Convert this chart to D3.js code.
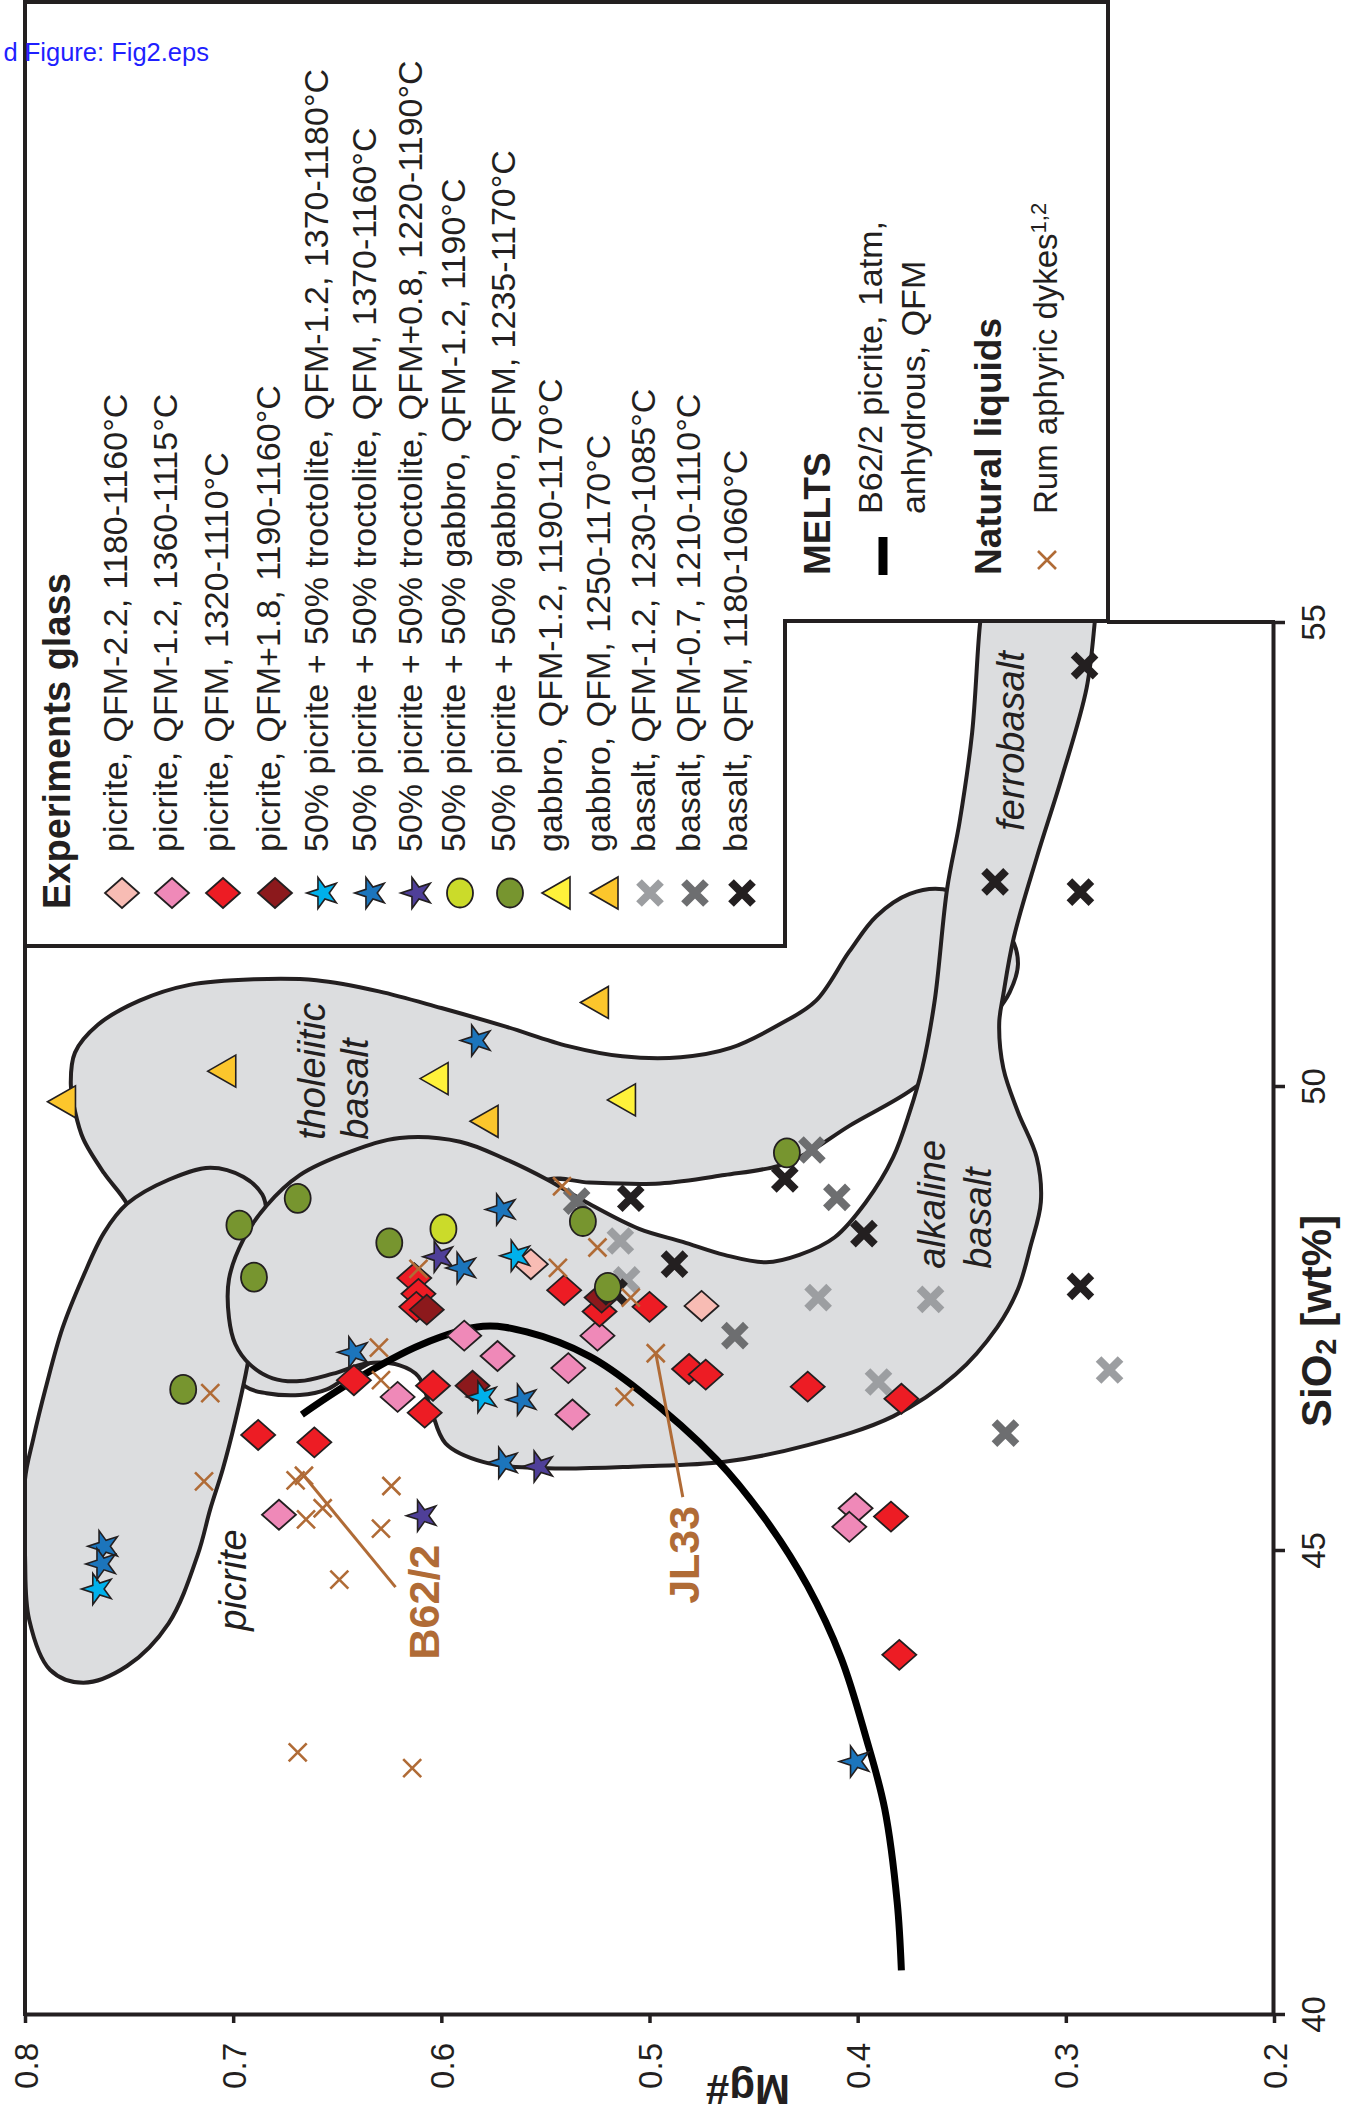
<!DOCTYPE html>
<html><head><meta charset="utf-8">
<script src="https://cdn.jsdelivr.net/npm/d3@7"></script>
<style>body{margin:0;background:#fff}svg{display:block}</style>
</head><body>
<svg id="c" width="1347" height="2112"></svg>
<script>
const FONT = "'Liberation Sans', Arial, Helvetica, sans-serif";

// ---------- DATA: [Mg#, SiO2 wt%] ----------
const mgTicks = [0.8, 0.7, 0.6, 0.5, 0.4, 0.3, 0.2];
const siTicks = [40, 45, 50, 55];

const picriteQFMm22 = [[0.557,48.08],[0.475,47.63]];
const picriteQFMm12 = [[0.589,47.31],[0.573,47.09],[0.539,46.96],[0.525,47.31],[0.621,46.65],[0.537,46.46],[0.678,45.38],[0.401,45.45],[0.404,45.25]];
const picriteQFM = [[0.613,47.93],[0.611,47.76],[0.612,47.62],[0.541,47.80],[0.524,47.57],[0.500,47.62],[0.642,46.83],[0.604,46.77],[0.608,46.48],[0.688,46.24],[0.661,46.16],[0.481,46.95],[0.473,46.89],[0.424,46.76],[0.379,46.63],[0.384,45.36],[0.380,43.87]];
const picriteQFMp18 = [[0.607,47.59],[0.585,46.77],[0.523,47.72]];
const trocQFMm12 = [[0.564,48.17],[0.580,46.65],[0.765,44.58]];
const trocQFM = [[0.583,50.49],[0.571,48.67],[0.590,48.04],[0.642,47.13],[0.561,46.62],[0.570,45.94],[0.762,45.04],[0.763,44.85],[0.401,42.72]];
const trocQFMp08 = [[0.601,48.16],[0.553,45.90],[0.609,45.37]];
const gabMixQFMm12 = [[0.599,48.46]];
const gabMixQFM = [[0.669,48.79],[0.697,48.50],[0.625,48.31],[0.690,47.94],[0.724,46.73],[0.532,48.54],[0.520,47.83],[0.434,49.28]];
const gabbroQFMm12 = [[0.603,50.08],[0.513,49.85]];
const gabbroQFM = [[0.782,49.83],[0.705,50.16],[0.526,50.90],[0.579,49.62]];
const basaltQFMm12 = [[0.514,48.33],[0.511,47.91],[0.419,47.72],[0.365,47.70],[0.390,46.81],[0.279,46.94]];
const basaltQFMm07 = [[0.535,48.76],[0.422,49.31],[0.410,48.80],[0.459,47.31],[0.329,46.26]];
const basaltQFM = [[0.517,47.78],[0.509,48.79],[0.291,54.53],[0.334,52.20],[0.293,52.09],[0.435,49.00],[0.397,48.41],[0.488,48.08],[0.293,47.84]];
const rumDykes = [[0.542,48.92],[0.525,48.26],[0.544,48.04],[0.611,48.03],[0.630,47.18],[0.629,46.83],[0.711,46.69],[0.512,46.65],[0.509,47.72],[0.497,47.12],[0.714,45.74],[0.670,45.75],[0.666,45.80],[0.624,45.69],[0.657,45.45],[0.665,45.33],[0.629,45.23],[0.649,44.68],[0.669,42.82],[0.614,42.65]];

const meltsB622 = [[0.667,46.46],[0.644,46.80],[0.610,47.21],[0.580,47.41],[0.559,47.35],[0.529,47.09],[0.505,46.72],[0.468,45.98],[0.444,45.32],[0.424,44.61],[0.408,43.84],[0.396,42.98],[0.387,42.21],[0.381,41.20],[0.379,40.47]];

const fieldTholeiitic = [[0.751,48.73],[0.762,49.06],[0.772,49.43],[0.776,49.73],[0.778,50.02],[0.776,50.36],[0.765,50.66],[0.745,50.92],[0.721,51.09],[0.690,51.15],[0.660,51.14],[0.630,51.02],[0.600,50.84],[0.569,50.64],[0.539,50.43],[0.513,50.32],[0.485,50.31],[0.461,50.41],[0.437,50.67],[0.420,50.92],[0.404,51.45],[0.391,51.83],[0.375,52.07],[0.359,52.12],[0.339,51.91],[0.326,51.59],[0.323,51.31],[0.327,51.01],[0.334,50.78],[0.351,50.40],[0.374,49.96],[0.404,49.57],[0.424,49.28],[0.438,49.14],[0.464,49.04],[0.495,48.95],[0.529,48.96],[0.549,48.99],[0.577,48.57],[0.601,47.81],[0.625,47.16],[0.644,46.89],[0.655,46.73],[0.668,46.67],[0.684,46.69],[0.694,46.76],[0.716,47.38],[0.740,48.13]];
const fieldPicrite = [[0.751,48.73],[0.731,48.99],[0.711,49.12],[0.695,49.02],[0.686,48.83],[0.684,48.65],[0.686,48.13],[0.690,47.49],[0.693,47.01],[0.699,46.39],[0.705,45.87],[0.711,45.44],[0.717,44.95],[0.731,44.21],[0.751,43.75],[0.772,43.57],[0.788,43.71],[0.798,44.25],[0.800,44.95],[0.800,45.76],[0.796,46.20],[0.790,46.75],[0.782,47.39],[0.772,47.95],[0.762,48.42]];
const fieldAlkaline = [[0.339,55.25],[0.341,55.02],[0.345,53.81],[0.351,52.85],[0.357,52.13],[0.363,50.92],[0.369,50.19],[0.375,49.72],[0.383,49.23],[0.396,48.75],[0.411,48.37],[0.428,48.18],[0.444,48.10],[0.464,48.18],[0.484,48.32],[0.505,48.46],[0.529,48.73],[0.549,48.99],[0.569,49.21],[0.591,49.40],[0.620,49.44],[0.644,49.29],[0.668,49.04],[0.684,48.71],[0.695,48.35],[0.702,47.92],[0.702,47.50],[0.699,47.22],[0.692,47.00],[0.681,46.85],[0.668,46.82],[0.652,46.90],[0.636,47.01],[0.620,46.99],[0.611,46.87],[0.605,46.52],[0.598,46.15],[0.580,45.95],[0.549,45.88],[0.505,45.90],[0.464,45.95],[0.424,46.13],[0.383,46.44],[0.353,46.89],[0.333,47.40],[0.323,47.81],[0.317,48.27],[0.312,48.75],[0.314,49.23],[0.323,49.72],[0.330,50.19],[0.332,50.68],[0.330,50.99],[0.325,51.60],[0.314,52.46],[0.302,53.32],[0.290,54.29],[0.286,55.02],[0.285,55.25]];

const fieldLabels = [
  {t:'tholeiitic', mg:0.656, si:49.42},
  {t:'basalt', mg:0.635, si:49.42},
  {t:'alkaline', mg:0.358, si:48.03},
  {t:'basalt', mg:0.336, si:48.03},
  {t:'ferrobasalt', mg:0.320, si:52.75},
  {t:'picrite', mg:0.694, si:44.13}
];
const sampleLabels = [
  {t:'B62/2', mg:0.601, si:43.82, from:[0.666,45.80], to:[0.622,44.60]},
  {t:'JL33', mg:0.476, si:44.42, from:[0.497,47.12], to:[0.484,45.57]}
];

const legendLabels = [
  'picrite, QFM-2.2, 1180-1160°C',
  'picrite, QFM-1.2, 1360-1115°C',
  'picrite, QFM, 1320-1110°C',
  'picrite, QFM+1.8, 1190-1160°C',
  '50% picrite + 50% troctolite, QFM-1.2, 1370-1180°C',
  '50% picrite + 50% troctolite, QFM, 1370-1160°C',
  '50% picrite + 50% troctolite, QFM+0.8, 1220-1190°C',
  '50% picrite + 50% gabbro, QFM-1.2, 1190°C',
  '50% picrite + 50% gabbro, QFM, 1235-1170°C',
  'gabbro, QFM-1.2, 1190-1170°C',
  'gabbro, QFM, 1250-1170°C',
  'basalt, QFM-1.2, 1230-1085°C',
  'basalt, QFM-0.7, 1210-1110°C',
  'basalt, QFM, 1180-1060°C'
];

// ---------- STYLE ----------
const INK = '#231f20';
const series = [
  {data:picriteQFMm22, shape:'diamond', fill:'#f8bcb4'},
  {data:picriteQFMm12, shape:'diamond', fill:'#ef89b8'},
  {data:picriteQFM, shape:'diamond', fill:'#ed1c24'},
  {data:picriteQFMp18, shape:'diamond', fill:'#8c191c'},
  {data:trocQFMm12, shape:'star', fill:'#00b1eb'},
  {data:trocQFM, shape:'star', fill:'#1c75bc'},
  {data:trocQFMp08, shape:'star', fill:'#4f3f98'},
  {data:gabMixQFMm12, shape:'circle', fill:'#cbdb2a'},
  {data:gabMixQFM, shape:'circle', fill:'#77952f'},
  {data:gabbroQFMm12, shape:'triangle', fill:'#fff23a'},
  {data:gabbroQFM, shape:'triangle', fill:'#fcc62c'},
  {data:basaltQFMm12, shape:'xbold', fill:'#9c9ea1'},
  {data:basaltQFMm07, shape:'xbold', fill:'#6d6e70'},
  {data:basaltQFM, shape:'xbold', fill:'#231f20'}
];
const BROWN = '#b06b36';
const drawOrder = [0,1,2,3,11,12,13,8,7,9,10,6,4,5];

const svg = d3.select('#c');
const x = d3.scaleLinear().domain([0.8, 0.2]).range([25, 1274]);
const y = d3.scaleLinear().domain([40, 55]).range([2014, 622]);

svg.append('defs').append('clipPath').attr('id','plot')
  .append('rect').attr('x', x(0.8)).attr('y', y(55))
  .attr('width', x(0.2) - x(0.8)).attr('height', y(40) - y(55));

// ---------- FIELDS ----------
const fieldG = svg.append('g').attr('clip-path','url(#plot)');
const closed = d3.line().x(d => x(d[0])).y(d => y(d[1])).curve(d3.curveCatmullRomClosed.alpha(0.5));
[fieldTholeiitic, fieldPicrite, fieldAlkaline].forEach(f => {
  fieldG.append('path').attr('d', closed(f))
    .attr('fill', '#dcdddf').attr('stroke', INK).attr('stroke-width', 4).attr('stroke-linejoin','round');
});

fieldLabels.forEach(l => {
  svg.append('text').text(l.t)
    .attr('transform', `translate(${x(l.mg)},${y(l.si)}) rotate(-90)`)
    .attr('font-family', FONT).attr('font-style','italic').attr('font-size', 38).attr('fill', INK);
});

// ---------- MELTS LINE ----------
svg.append('path')
  .attr('d', d3.line().x(d => x(d[0])).y(d => y(d[1])).curve(d3.curveCatmullRom.alpha(0.5))(meltsB622))
  .attr('fill','none').attr('stroke','#000').attr('stroke-width', 7).attr('stroke-linecap','butt');

// ---------- MARKERS ----------
const starPath = d3.symbol(d3.symbolStar, 300)();
function marker(g, shape, fill, cx, cy) {
  if (shape === 'diamond') {
    g.append('path').attr('d','M0,-15L17,0L0,15L-17,0Z').attr('transform',`translate(${cx},${cy})`)
      .attr('fill', fill).attr('stroke', INK).attr('stroke-width', 1.8).attr('stroke-linejoin','miter');
  } else if (shape === 'star') {
    g.append('path').attr('d', starPath).attr('transform',`translate(${cx},${cy}) rotate(-90)`)
      .attr('fill', fill).attr('stroke', INK).attr('stroke-width', 1.6);
  } else if (shape === 'circle') {
    g.append('ellipse').attr('cx', cx).attr('cy', cy).attr('rx', 13).attr('ry', 14.5)
      .attr('fill', fill).attr('stroke', INK).attr('stroke-width', 1.8);
  } else if (shape === 'triangle') {
    g.append('path').attr('d','M-15,0L13,-16L13,16Z').attr('transform',`translate(${cx},${cy})`)
      .attr('fill', fill).attr('stroke', INK).attr('stroke-width', 1.6).attr('stroke-linejoin','miter');
  } else if (shape === 'xbold') {
    g.append('path').attr('d','M-11,-11L11,11M-11,11L11,-11').attr('transform',`translate(${cx},${cy})`)
      .attr('fill','none').attr('stroke', fill).attr('stroke-width', 8);
  } else if (shape === 'xthin') {
    g.append('path').attr('d','M-9,-9L9,9M-9,9L9,-9').attr('transform',`translate(${cx},${cy})`)
      .attr('fill','none').attr('stroke', fill).attr('stroke-width', 2.6);
  }
}

const ptG = svg.append('g');
drawOrder.forEach(i => {
  const s = series[i];
  s.data.forEach(d => marker(ptG, s.shape, s.fill, x(d[0]), y(d[1])));
});
rumDykes.forEach(d => marker(ptG, 'xthin', BROWN, x(d[0]), y(d[1])));

// sample labels
sampleLabels.forEach(l => {
  svg.append('line').attr('x1', x(l.from[0])).attr('y1', y(l.from[1]))
    .attr('x2', x(l.to[0])).attr('y2', y(l.to[1]))
    .attr('stroke', BROWN).attr('stroke-width', 3);
  svg.append('text').text(l.t)
    .attr('transform', `translate(${x(l.mg)},${y(l.si)}) rotate(-90)`)
    .attr('font-family', FONT).attr('font-weight','bold').attr('font-size', 43).attr('fill', BROWN);
});

// ---------- AXES ----------
const xAxis = svg.append('g').attr('transform', `translate(0,${y(40)})`)
  .call(d3.axisBottom(x).tickValues(mgTicks).tickSize(9).tickSizeOuter(0).tickFormat(d3.format('.1f')));
const yAxis = svg.append('g').attr('transform', `translate(${x(0.2) - 1},0)`)
  .call(d3.axisRight(y).tickValues(siTicks).tickSize(12).tickSizeOuter(0).tickFormat(d3.format('d')));
[xAxis, yAxis].forEach(a => {
  a.select('.domain').attr('stroke', INK).attr('stroke-width', 4);
  a.selectAll('.tick line').attr('stroke', INK).attr('stroke-width', 3.5);
  a.selectAll('.tick text').remove();
});
xAxis.selectAll('.tick').append('text').text(d => d3.format('.1f')(d))
  .attr('transform','translate(12,29) rotate(-90)').attr('text-anchor','end')
  .attr('font-family', FONT).attr('font-size', 33).attr('fill', INK);
yAxis.selectAll('.tick').append('text').text(d => d)
  .attr('transform','translate(52,0) rotate(-90)').attr('text-anchor','middle')
  .attr('font-family', FONT).attr('font-size', 33).attr('fill', INK);

// frame
svg.append('line').attr('x1', x(0.8)).attr('x2', x(0.8)).attr('y1', 946).attr('y2', y(40) + 2)
  .attr('stroke', INK).attr('stroke-width', 4);
svg.append('line').attr('x1', 1107).attr('x2', x(0.2) + 1).attr('y1', y(55)).attr('y2', y(55))
  .attr('stroke', INK).attr('stroke-width', 4);

// axis titles
svg.append('text').text('Mg#')
  .attr('transform', 'translate(748,2075) rotate(180)').attr('text-anchor','middle')
  .attr('font-family', FONT).attr('font-weight','bold').attr('font-size', 42).attr('fill', INK);
const siT = svg.append('text').attr('transform','translate(1331,1427) rotate(-90)')
  .attr('font-family', FONT).attr('font-weight','bold').attr('font-size', 42).attr('fill', INK);
siT.append('tspan').text('SiO');
siT.append('tspan').text('2').attr('font-size', 29).attr('dy', 5);
siT.append('tspan').text(' [wt%]').attr('dy', -5);

// ---------- LEGEND ----------
const lg = svg.append('g');
lg.append('path').attr('d','M25,2L1108,2L1108,621L785,621L785,946L25,946Z')
  .attr('fill','#fff').attr('stroke', INK).attr('stroke-width', 4).attr('stroke-linejoin','miter');

const legX = [122,172,223,275,323,371,417,460,510,557,605,650,695,742];
lg.append('text').text('Experiments glass').attr('transform','translate(70,909) rotate(-90)')
  .attr('font-family', FONT).attr('font-weight','bold').attr('font-size', 38).attr('fill', INK);
series.forEach((s, i) => {
  marker(lg, s.shape, s.fill, legX[i], 893);
  lg.append('text').text(legendLabels[i]).attr('transform', `translate(${legX[i] + 5},852) rotate(-90)`)
    .attr('font-family', FONT).attr('font-size', 34).attr('fill', INK);
});

lg.append('text').text('MELTS').attr('transform','translate(830,575) rotate(-90)')
  .attr('font-family', FONT).attr('font-weight','bold').attr('font-size', 37).attr('fill', INK);
lg.append('line').attr('x1', 883).attr('x2', 883).attr('y1', 537).attr('y2', 575)
  .attr('stroke','#000').attr('stroke-width', 9);
lg.append('text').text('B62/2 picrite,  1atm,').attr('transform','translate(882,514) rotate(-90)')
  .attr('font-family', FONT).attr('font-size', 34).attr('fill', INK);
lg.append('text').text('anhydrous,  QFM').attr('transform','translate(925,514) rotate(-90)')
  .attr('font-family', FONT).attr('font-size', 34).attr('fill', INK);
lg.append('text').text('Natural liquids').attr('transform','translate(1001,575) rotate(-90)')
  .attr('font-family', FONT).attr('font-weight','bold').attr('font-size', 37).attr('fill', INK);
marker(lg, 'xthin', BROWN, 1047, 560);
const rum = lg.append('text').attr('transform','translate(1057,514) rotate(-90)')
  .attr('font-family', FONT).attr('font-size', 33).attr('fill', INK);
rum.append('tspan').text('Rum aphyric dykes');
rum.append('tspan').text('1,2').attr('font-size', 22).attr('dy', -11);

// embedded figure caption (visible part as in the reference)
svg.append('text').text('d Figure: Fig2.eps').attr('x', 209).attr('y', 61).attr('text-anchor','end')
  .attr('font-family', FONT).attr('font-size', 25.5).attr('fill', '#1f1fff');
</script>
</body></html>
